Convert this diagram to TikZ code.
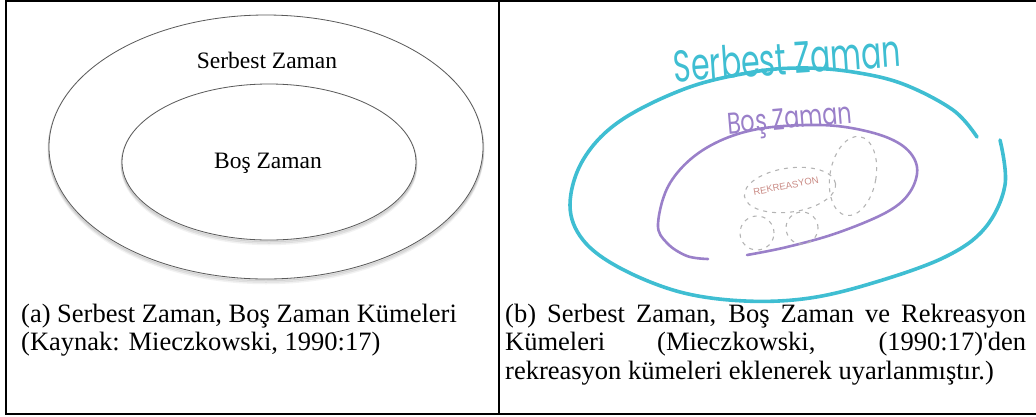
\documentclass[tikz,border=0pt]{standalone}
\usepackage{fontspec}
\setmainfont{Liberation Serif}
\newfontfamily\handfont{Poppins}
\newfontfamily\smallsans{Liberation Sans}
\definecolor{cyanpen}{HTML}{3FBED2}
\definecolor{purplepen}{HTML}{9A80C9}
\definecolor{dashgray}{HTML}{B4B4B4}
\definecolor{rekcol}{HTML}{C98A84}
\definecolor{ellline}{HTML}{5A5A5A}
\begin{document}
\begin{tikzpicture}[x=1pt,y=-1pt,
  frame/.style={line width=1.5pt,black},
  setell/.style={draw=ellline,line width=0.8pt,fill=white},
  shade1/.style={draw=black,line width=2.2pt,opacity=0.10},
  cyanline/.style={draw=cyanpen,line width=3.6pt,line cap=round},
  purpleline/.style={draw=purplepen,line width=2.6pt,line cap=round},
  blob/.style={draw=dashgray,line width=1.1pt,dash pattern=on 4pt off 5pt},
  settext/.style={font=\fontsize{23.5}{28}\selectfont,inner sep=0pt},
  captext/.style={font=\fontsize{26.5}{28.5}\selectfont,inner sep=0pt,anchor=base west}]
\useasboundingbox (0,0) rectangle (1036,416);
% frame
\draw[frame] (6,0.8) -- (1036,0.8);
\draw[frame] (6,0) -- (6,414.2);
\draw[frame] (5.3,414.2) -- (1036,414.2);
\draw[frame] (499,0) -- (499,414.2);
% ---------- left panel ----------
\foreach \d/\o in {1/0.10,2.5/0.08,4/0.05}{
  \draw[draw=black,line width=2.5pt,opacity=\o] (266,147+\d) ellipse [x radius=217pt,y radius=132pt];}
\draw[setell] (266,147) ellipse [x radius=217pt,y radius=132pt];
\foreach \d/\o in {1/0.10,2.5/0.08,4/0.05}{
  \draw[draw=black,line width=2.5pt,opacity=\o] (269,162+\d) ellipse [x radius=147pt,y radius=78pt];}
\draw[setell] (269,162) ellipse [x radius=147pt,y radius=78pt];
\node[settext] (serbestA) at (267,60) {Serbest Zaman};
\node[settext] (bosA) at (268,163) {Boş Zaman};
\node[captext] (capA1) at (21,322) {(a) Serbest Zaman, Boş Zaman Kümeleri};
\node[captext] (capA2) at (21,350.5) {(Kaynak: Mieczkowski, 1990:17)};
% ---------- right panel ----------
\draw[cyanline] plot[smooth,tension=0.6] coordinates {
  (977,137) (953,110) (903,84) (853,72) (803,68) (753,72) (687,88) (620,121)
  (583,160) (570,205) (583,240) (620,268) (680,292) (745,301) (810,298)
  (876,282) (945,257) (985,228) (1005,185) (1000,140)};
\draw[purpleline] plot[smooth,tension=0.6] coordinates {
  (747,255) (787,247) (837,233) (887,212) (910,192) (917,167) (903,146)
  (870,132) (820,125) (753,130) (703,150) (670,183) (658,224) (667,243)
  (687,256) (708,259)};
% recreation blobs
\draw[blob,rotate around={8:(790,190)}] (790,190) ellipse [x radius=46pt,y radius=22pt];
\draw[blob,rotate around={-10:(853,176)}] (853,176) ellipse [x radius=23pt,y radius=40pt];
\draw[blob] (757,233) circle [radius=17pt];
\draw[blob] (802,228) circle [radius=16pt];
\node[font=\smallsans\fontsize{9.5}{11}\selectfont,text=rekcol,rotate=11,inner sep=0pt] (rek) at (786,186) {REKREASYON};
\node[text=cyanpen,rotate=4,inner sep=0pt] (serbestB) at (787,58)
  {\resizebox{227pt}{33pt}{\handfont Serbest Zaman}};
\node[text=purplepen,rotate=5,inner sep=0pt] (bosB) at (790,122)
  {\resizebox{125pt}{21pt}{\handfont Boş Zaman}};
\node[captext] (capB1) at (505,322) {\makebox[521pt][s]{(b) Serbest Zaman, Boş Zaman ve Rekreasyon}};
\node[captext] (capB2) at (505,350.5) {\makebox[521pt][s]{Kümeleri (Mieczkowski, (1990:17)\textquotesingle den}};
\node[captext] (capB3) at (505,379) {rekreasyon kümeleri eklenerek uyarlanmıştır.)};
\end{tikzpicture}
\end{document}
